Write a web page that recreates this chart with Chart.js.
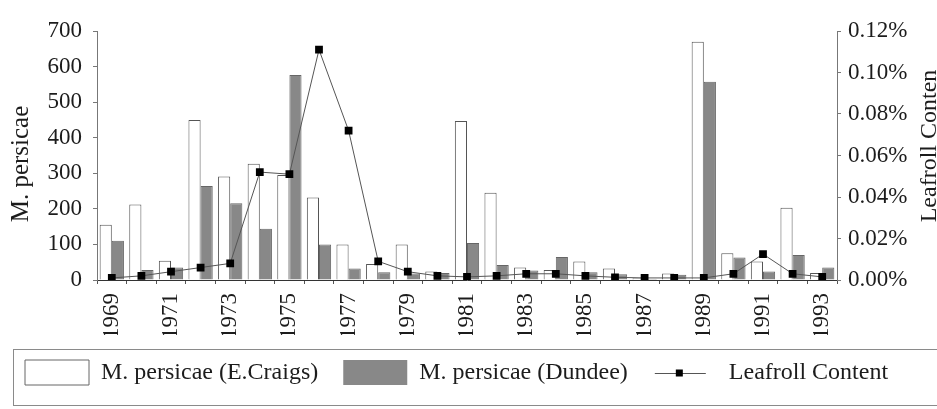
<!DOCTYPE html>
<html>
<head>
<meta charset="utf-8">
<script src="https://cdn.jsdelivr.net/npm/chart.js@4/dist/chart.umd.min.js"></script>
<style>
html,body{margin:0;padding:0;background:#fff;}
#wrap{width:937px;height:409px;}
</style>
</head>
<body>
<div id="wrap"><canvas id="c" width="937" height="409"></canvas></div>
<script>
// ---- data ----
const years = ['1969','1970','1971','1972','1973','1974','1975','1976','1977','1978','1979','1980','1981','1982','1983','1984','1985','1986','1987','1988','1989','1990','1991','1992','1993'];
const craigs = [155,212,54,450,291,327,295,232,100,45,100,24,447,245,35,28,52,32,5,18,670,75,52,203,20];
const dundee = [110,28,35,264,216,144,576,100,32,22,18,20,104,42,27,65,22,16,3,15,557,63,24,70,35];
const leafroll = [0.001,0.002,0.004,0.006,0.008,0.052,0.051,0.111,0.072,0.009,0.004,0.002,0.0015,0.002,0.003,0.003,0.002,0.0013,0.001,0.001,0.001,0.003,0.0125,0.003,0.0015];
const leftTickLabels = ['0','100','200','300','400','500','600','700'];
const rightTickLabels = ['0.00%','0.02%','0.04%','0.06%','0.08%','0.10%','0.12%'];
const yearTickLabels = ['1969','','1971','','1973','','1975','','1977','','1979','','1981','','1983','','1985','','1987','','1989','','1991','','1993'];
const seriesNames = ['M. persicae (E.Craigs)','M. persicae (Dundee)','Leafroll Content'];
const leftTitle = 'M. persicae';
const rightTitle = 'Leafroll Conten';

// ---- style ----
const FAMILY = "'Liberation Serif','Times New Roman',serif";
const TXT = '#1c1c1c';
const GRAY = '#888888';

const decor = {
  id: 'decor',
  afterDraw(chart) {
    const ctx = chart.ctx;
    ctx.save();
    // legend frame
    ctx.strokeStyle = '#8a8a8a';
    ctx.lineWidth = 1;
    ctx.strokeRect(13.5, 349.5, 940, 56);
    // line legend symbol
    const hb = chart.legend.legendHitBoxes[2];
    if (hb) {
      const cy = Math.round(hb.top + hb.height / 2) + 0.5;
      ctx.strokeStyle = '#555';
      ctx.beginPath();
      ctx.moveTo(hb.left + 2, cy);
      ctx.lineTo(hb.left + 53, cy);
      ctx.stroke();
      ctx.fillStyle = '#000';
      ctx.fillRect(hb.left + 23, cy - 4, 7, 7);
    }
    ctx.font = '24px ' + FAMILY;
    ctx.fillStyle = TXT;
    ctx.textAlign = 'center';
    ctx.textBaseline = 'alphabetic';
    // left axis title (reads bottom to top)
    ctx.save();
    ctx.translate(28, 164);
    ctx.rotate(-Math.PI / 2);
    ctx.font = '25px ' + FAMILY;
    ctx.fillText(leftTitle, 0, 0);
    ctx.restore();
    // right axis title (reads bottom to top)
    ctx.translate(936, 146);
    ctx.rotate(-Math.PI / 2);
    ctx.fillText(rightTitle, 0, 0);
    ctx.restore();
  }
};

new Chart(document.getElementById('c'), {
  type: 'bar',
  data: {
    labels: years,
    datasets: [
      {
        type: 'bar', label: seriesNames[0], data: craigs, yAxisID: 'y', order: 1,
        backgroundColor: '#ffffff', borderColor: '#555', borderWidth: 1,
        categoryPercentage: 0.82, barPercentage: 1.0
      },
      {
        type: 'bar', label: seriesNames[1], data: dundee, yAxisID: 'y', order: 1,
        backgroundColor: GRAY, borderColor: '#666', borderWidth: 1,
        categoryPercentage: 0.82, barPercentage: 1.0
      },
      {
        type: 'line', label: seriesNames[2], data: leafroll, yAxisID: 'y1', order: 0,
        borderColor: '#555', borderWidth: 1, tension: 0, fill: false,
        pointStyle: 'rect', pointRadius: 5.5, pointBackgroundColor: '#000',
        pointBorderColor: '#000', pointBorderWidth: 0
      }
    ]
  },
  options: {
    responsive: false,
    devicePixelRatio: 1,
    animation: false,
    layout: { padding: { top: 31, bottom: 14, left: 0, right: 0 } },
    plugins: {
      tooltip: { enabled: false },
      legend: {
        position: 'bottom',
        align: 'start',
        labels: {
          font: { family: FAMILY, size: 24 },
          color: TXT,
          boxWidth: 64,
          boxHeight: 25,
          padding: 25,
          sort: (a, b) => a.datasetIndex - b.datasetIndex,
          generateLabels: (chart) => {
            const items = Chart.defaults.plugins.legend.labels.generateLabels(chart);
            items.forEach(it => {
              if (it.datasetIndex === 2) {
                it.fillStyle = 'rgba(0,0,0,0)';
                it.strokeStyle = 'rgba(0,0,0,0)';
                it.lineWidth = 0;
              } else if (it.datasetIndex === 0) {
                it.strokeStyle = '#666'; it.lineWidth = 1;
              } else {
                it.strokeStyle = GRAY; it.lineWidth = 0;
              }
            });
            return items;
          }
        }
      }
    },
    scales: {
      x: {
        offset: true,
        grid: { display: true, offset: true, drawOnChartArea: false, drawTicks: true, tickLength: 4, color: '#555' },
        border: { display: true, color: '#333', width: 1 },
        ticks: {
          autoSkip: false, maxRotation: 90, minRotation: 90, padding: 9,
          font: { family: FAMILY, size: 23 }, color: TXT,
          callback: (v, i) => yearTickLabels[i]
        },
        afterFit: (s) => { s.height = 55; }
      },
      y: {
        position: 'left', min: 0, max: 700,
        grid: { drawOnChartArea: false, tickLength: 4, color: '#777' },
        border: { display: true, color: '#777', width: 1 },
        ticks: {
          stepSize: 100, padding: 11, font: { family: FAMILY, size: 23 }, color: TXT,
          callback: (v, i) => leftTickLabels[i]
        },
        afterFit: (s) => { s.width = 97; }
      },
      y1: {
        position: 'right', min: 0, max: 0.12,
        grid: { drawOnChartArea: false, tickLength: 4, color: '#777' },
        border: { display: true, color: '#777', width: 1 },
        ticks: {
          stepSize: 0.02, padding: 7, font: { family: FAMILY, size: 23 }, color: TXT,
          callback: (v, i) => rightTickLabels[i]
        },
        afterFit: (s) => { s.width = 100; }
      }
    }
  },
  plugins: [decor]
});
</script>
</body>
</html>
